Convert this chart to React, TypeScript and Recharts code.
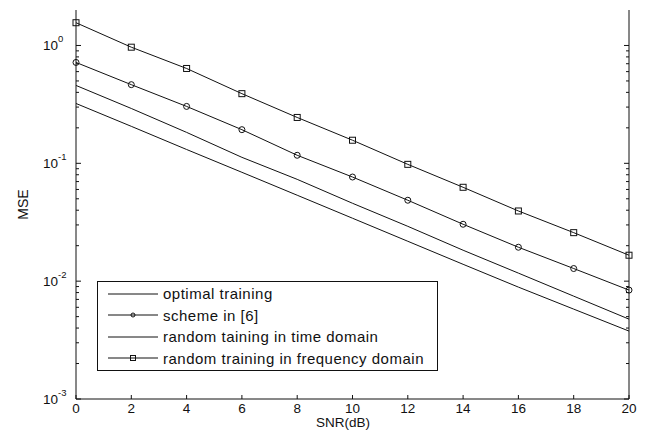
import React from 'react';
import { LineChart, Line, XAxis, YAxis } from 'recharts';

// SNR (dB) vs MSE
const snr = [0, 2, 4, 6, 8, 10, 12, 14, 16, 18, 20];
const optimal = [0.322, 0.206, 0.131, 0.0839, 0.0536, 0.0342, 0.0218, 0.0139, 0.0089, 0.00579, 0.00377];
const scheme6 = [0.718, 0.465, 0.304, 0.193, 0.117, 0.0765, 0.0486, 0.0304, 0.0194, 0.0128, 0.0084];
const randTime = [0.458, 0.292, 0.183, 0.1124, 0.0731, 0.0458, 0.0292, 0.0183, 0.0117, 0.00746, 0.00476];
const randFreq = [1.56, 0.967, 0.638, 0.39, 0.245, 0.157, 0.098, 0.0626, 0.0394, 0.0258, 0.0166];

const xTicks = [0, 2, 4, 6, 8, 10, 12, 14, 16, 18, 20];
const yMajor = [0.001, 0.01, 0.1, 1];
const yMinorSteps = [2, 3, 4, 5, 6, 7, 8, 9];
const yTicks = [
  ...yMajor,
  ...yMajor.slice(0, 3).flatMap(d => yMinorSteps.map(m => +(d * m).toPrecision(3))),
];

const legendNames = [
  'optimal training',
  'scheme in [6]',
  'random taining in time domain',
  'random training in frequency domain',
];

const data = snr.map((s, i) => ({
  snr: s,
  optimal: optimal[i],
  scheme6: scheme6[i],
  randTime: randTime[i],
  randFreq: randFreq[i],
}));

const FONT = '"Liberation Sans", Arial, Helvetica, sans-serif';
const INK = '#111';

const CircleDot = (props: any) => {
  const { cx, cy } = props;
  return <circle cx={cx} cy={cy} r={3} fill="none" stroke={INK} strokeWidth={1} />;
};

const SquareDot = (props: any) => {
  const { cx, cy } = props;
  return <rect x={cx - 3} y={cy - 3} width={6} height={6} fill="none" stroke={INK} strokeWidth={1} />;
};

const LeftTick = (props: any) => {
  const { x, y, payload } = props;
  const major = yMajor.includes(payload.value);
  const exp = Math.round(Math.log10(payload.value));
  return (
    <g>
      <line x1={x} x2={x + (major ? 5 : 3)} y1={y} y2={y} stroke={INK} />
      {major && (
        <text x={x - 33} y={y + 5} fontSize={13.5} fill={INK} fontFamily={FONT}>
          10
          <tspan dy={-8} fontSize={9.5}>{exp}</tspan>
        </text>
      )}
    </g>
  );
};

const RightTick = (props: any) => {
  const { x, y, payload } = props;
  const major = yMajor.includes(payload.value);
  return <line x1={x} x2={x - (major ? 5 : 3)} y1={y} y2={y} stroke={INK} />;
};

const BottomTick = (props: any) => {
  const { x, y, payload } = props;
  return (
    <g>
      <line x1={x} x2={x} y1={y} y2={y - 4} stroke={INK} />
      <text x={x} y={y + 14} textAnchor="middle" fontSize={13.5} fill={INK} fontFamily={FONT}>
        {payload.value}
      </text>
    </g>
  );
};

const TopTick = (props: any) => {
  const { x, y } = props;
  return <line x1={x} x2={x} y1={y} y2={y + 4} stroke={INK} />;
};

const LegendBox = () => (
  <div
    style={{
      position: 'absolute',
      left: 97,
      top: 281,
      border: `1px solid ${INK}`,
      background: '#fff',
      width: 339,
      height: 87,
      paddingTop: 1,
      boxSizing: 'content-box',
      fontFamily: FONT,
      fontSize: 15,
      letterSpacing: 0.5,
      color: INK,
    }}
  >
    {legendNames.map((name, i) => (
      <div key={name} style={{ display: 'flex', alignItems: 'center', height: 21.5 }}>
        <svg width={50} height={10} style={{ marginLeft: 10, marginRight: 5 }}>
          <line x1={0} x2={50} y1={5} y2={5} stroke={INK} strokeWidth={1} />
          {i === 1 && <circle cx={25} cy={5} r={2} fill="none" stroke={INK} />}
          {i === 3 && <rect x={22.5} y={2.5} width={5} height={5} fill="none" stroke={INK} />}
        </svg>
        <span style={{ whiteSpace: 'nowrap', lineHeight: 1 }}>{name}</span>
      </div>
    ))}
  </div>
);

export default function App() {
  return (
    <div style={{ position: 'absolute', left: 0, top: 0, width: 652, height: 439, background: '#fff' }}>
      <LineChart width={652} height={439} data={data} margin={{ top: 10, right: 0, bottom: 0, left: 0 }}>
        <XAxis
          dataKey="snr"
          type="number"
          domain={[0, 20]}
          ticks={xTicks}
          interval={0}
          height={40}
          tickSize={0}
          tickMargin={0}
          tickLine={false}
          axisLine={{ stroke: INK }}
          tick={<BottomTick />}
        />
        <XAxis
          xAxisId="top"
          orientation="top"
          dataKey="snr"
          type="number"
          domain={[0, 20]}
          ticks={xTicks}
          interval={0}
          height={0}
          tickSize={0}
          tickMargin={0}
          tickLine={false}
          axisLine={{ stroke: INK }}
          tick={<TopTick />}
        />
        <YAxis
          scale="log"
          type="number"
          domain={[0.001, 2]}
          allowDataOverflow
          ticks={yTicks}
          interval={0}
          width={76}
          tickSize={0}
          tickMargin={0}
          tickLine={false}
          axisLine={{ stroke: INK }}
          tick={<LeftTick />}
          label={{
            value: 'MSE',
            angle: -90,
            position: 'insideLeft',
            offset: 23,
            style: { fontSize: 14, fill: INK, fontFamily: FONT, textAnchor: 'middle' },
          }}
        />
        <YAxis
          yAxisId="right"
          orientation="right"
          scale="log"
          type="number"
          domain={[0.001, 2]}
          allowDataOverflow
          ticks={yTicks}
          interval={0}
          width={23}
          tickSize={0}
          tickMargin={0}
          tickLine={false}
          axisLine={{ stroke: INK }}
          tick={<RightTick />}
        />
        <Line dataKey="optimal" stroke={INK} strokeWidth={1} dot={false} isAnimationActive={false} />
        <Line dataKey="scheme6" stroke={INK} strokeWidth={1} dot={<CircleDot />} isAnimationActive={false} />
        <Line dataKey="randTime" stroke={INK} strokeWidth={1} dot={false} isAnimationActive={false} />
        <Line dataKey="randFreq" stroke={INK} strokeWidth={1} dot={<SquareDot />} isAnimationActive={false} />
      </LineChart>
      <LegendBox />
      <div
        style={{
          position: 'absolute',
          left: 343,
          top: 416,
          transform: 'translateX(-50%)',
          fontFamily: FONT,
          fontSize: 13.5,
          lineHeight: '14px',
          color: INK,
          whiteSpace: 'nowrap',
        }}
      >
        SNR(dB)
      </div>
    </div>
  );
}
